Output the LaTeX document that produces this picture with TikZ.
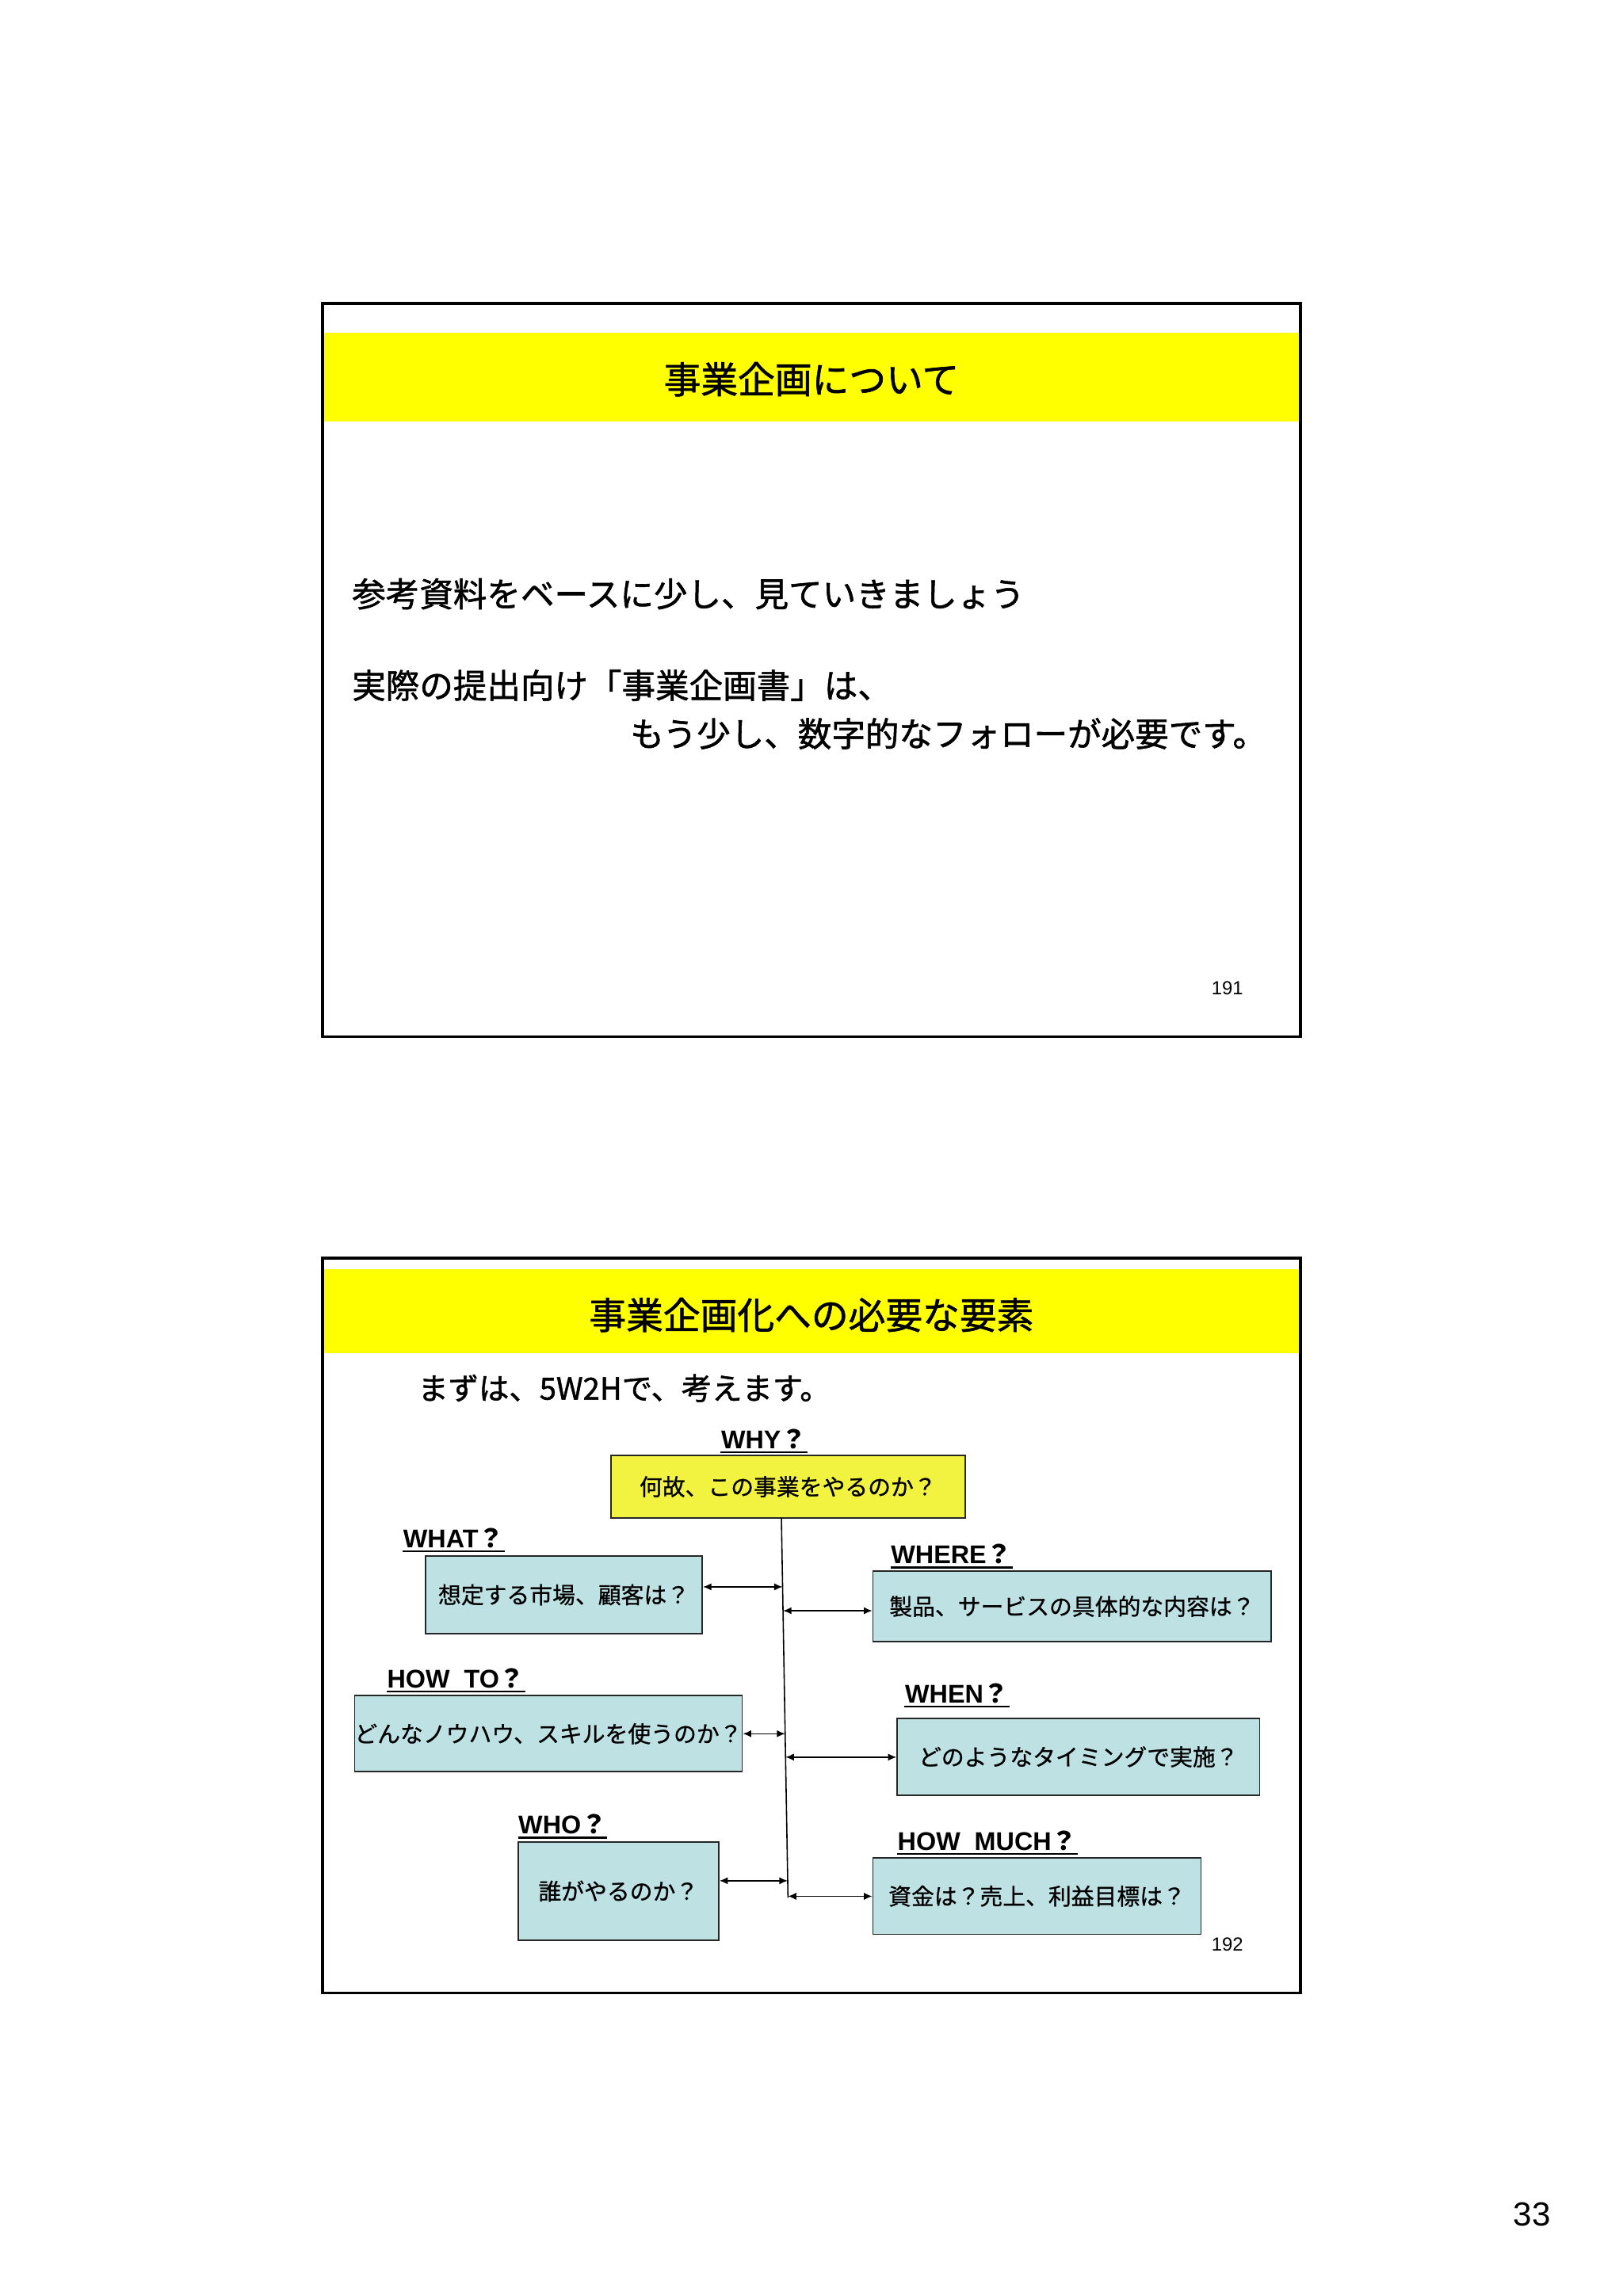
\documentclass[tikz,border=0pt]{standalone}
\usepackage{fontspec}
\setmainfont{Noto Sans CJK JP}
\newfontfamily\jp[FakeBold=1.3]{Noto Sans CJK JP}
\newfontfamily\jpl[FakeBold=0.8]{Noto Sans CJK JP}
\newfontfamily\jpq{Noto Sans CJK JP}
\newfontfamily\arial{Liberation Sans}
\usetikzlibrary{arrows.meta}
\definecolor{boxcyan}{RGB}{190,225,228}
\definecolor{whyyellow}{RGB}{242,242,64}
\definecolor{bandyellow}{RGB}{255,255,0}
\newcommand\pxu{0.018484cm}
\begin{document}
\begin{tikzpicture}[x=0.018484cm,y=-0.018484cm,
  slide/.style={draw=black,line width=1.1pt},
  band/.style={fill=bandyellow,draw=none},
  ttl/.style={inner sep=0pt,anchor=base,font=\jp\fontsize{13.3}{15}\selectfont},
  body/.style={inner sep=0pt,anchor=base west,font=\jp\fontsize{12.1}{14}\selectfont},
  box/.style={draw=black!85,line width=0.5pt,fill=boxcyan,inner sep=0pt,font=\jpl\fontsize{8.2}{9}\selectfont},
  whybox/.style={box,fill=whyyellow},
  lab/.style={inner sep=0pt,anchor=base west,font=\arial\bfseries\fontsize{9.2}{10}\selectfont},
  ul/.style={line width=0.6pt},
  link/.style={line width=0.45pt,{Latex[length=3pt,width=2.6pt]}-{Latex[length=3pt,width=2.6pt]}},
  pg/.style={inner sep=0pt,font=\arial\fontsize{6.8}{8}\selectfont}
]
\useasboundingbox[fill=white] (0,0) rectangle (1108,1568);

% ---------- slide 191 ----------
\path[band] (221,227) rectangle (887,288);
\draw[slide] (220,207) rectangle (888,708);
\node[ttl] (t1) at (554,268.6) {事業企画について};
\node[body] (b1) at (240,414.3) {参考資料をベースに少し、見ていきましょう};
\node[body] (b2) at (240,476.8) {実際の提出向け「事業企画書」は、};
\node[body] (b3) at (430,509.8) {もう少し、数字的なフォローが必要です。};
\node[pg] (p191) at (838,675) {191};

% ---------- slide 192 ----------
\path[band] (221,867) rectangle (887,924);
\draw[slide] (220,859) rectangle (888,1361);
\node[ttl] (t2) at (554,907.6) {事業企画化への必要な要素};
\node[inner sep=0pt,anchor=base west,font=\jp\fontsize{10.9}{13}\selectfont] (sub) at (285,955.8) {まずは、5W2Hで、考えます。};

% boxes
\node[whybox,minimum width=242*\pxu,minimum height=42.6*\pxu] (why) at (538,1015.3) {何故、この事業をやるのか？};
\node[box,minimum width=189*\pxu,minimum height=53*\pxu] (what) at (385,1089.1) {想定する市場、顧客は？};
\node[box,minimum width=272*\pxu,minimum height=48*\pxu] (where) at (732,1097) {製品、サービスの具体的な内容は？};
\node[box,minimum width=264.2*\pxu,minimum height=52*\pxu] (howto) at (374.4,1184) {どんなノウハウ、スキルを使うのか？};
\node[box,minimum width=247.5*\pxu,minimum height=52.5*\pxu] (when) at (736.3,1199.8) {どのようなタイミングで実施？};
\node[box,minimum width=137.1*\pxu,minimum height=67*\pxu] (who) at (422.2,1291.5) {誰がやるのか？};
\node[box,minimum width=224*\pxu,minimum height=52.3*\pxu] (howmuch) at (708,1294.9) {資金は？売上、利益目標は？};

% labels
\node[lab] (lwhy) at (492,989.5) {WHY{\jpq\bfseries ？}};
\node[lab] (lwhat) at (275,1057) {WHAT{\jpq\bfseries ？}};
\node[lab] (lwhere) at (608,1068) {WHERE{\jpq\bfseries ？}};
\node[lab] (lhowto) at (264,1152.5) {HOW\ \ TO{\jpq\bfseries ？}};
\node[lab] (lwhen) at (617.6,1163) {WHEN{\jpq\bfseries ？}};
\node[lab] (lwho) at (353.6,1252.5) {WHO{\jpq\bfseries ？}};
\node[lab] (lhowmuch) at (612.5,1263.5) {HOW\ \ MUCH{\jpq\bfseries ？}};
\foreach \n in {lwhy,lwhat,lwhere,lhowto,lwhen,lwho,lhowmuch}
  \draw[ul] ([yshift=-1.3pt]\n.base west) -- ([yshift=-1.3pt]\n.base east);

% spine
\coordinate (st) at (533.5,1036.6);
\coordinate (sb) at (538,1296);
\draw[line width=0.45pt] (st) -- (sb);

% connectors
\coordinate (s1) at (534.3,1083.7);
\coordinate (s2) at (534.6,1100);
\coordinate (s3) at (536.1,1184);
\coordinate (s4) at (536.3,1200);
\coordinate (s5) at (537.8,1284.4);
\coordinate (s6) at (538,1295);
\draw[link] (what.east |- s1) -- (s1);
\draw[link] (s2) -- (where.west |- s2);
\draw[link] (howto.east |- s3) -- (s3);
\draw[link] (s4) -- (when.west |- s4);
\draw[link] (who.east |- s5) -- (s5);
\draw[link] (s6) -- (howmuch.west |- s6);

\node[pg] (p192) at (838,1328) {192};
\node[inner sep=0pt,font=\arial\fontsize{12}{14}\selectfont] (p33) at (1046,1512) {33};
\end{tikzpicture}
\end{document}
